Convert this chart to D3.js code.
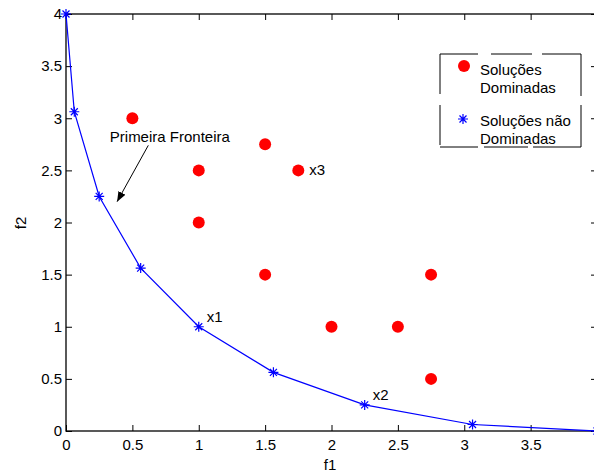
<!DOCTYPE html>
<html>
<head>
<meta charset="utf-8">
<script src="https://cdn.jsdelivr.net/npm/d3@7"></script>
<style>
  body { margin: 0; background: #fff; }
  svg { display: block; font-family: "Liberation Sans", Arial, sans-serif; }
  .axis text { font-size: 15px; fill: #000; }
  .axis line { stroke: #000; }
</style>
</head>
<body>
<script>
// non-dominated solutions (first front)
var frontF1 = [0, 0.0625, 0.25, 0.5625, 1, 1.5625, 2.25, 3.0625, 4];
var frontF2 = [4, 3.0625, 2.25, 1.5625, 1, 0.5625, 0.25, 0.0625, 0];

// dominated solutions
var domF1 = [0.5, 1, 1, 1.5, 1.5, 1.75, 2, 2.5, 2.75, 2.75];
var domF2 = [3, 2.5, 2, 2.75, 1.5, 2.5, 1, 1, 1.5, 0.5];

// point labels
var labelText = ["x1", "x2", "x3"];
var labelF1 = [1, 2.25, 1.75];
var labelF2 = [1, 0.25, 2.5];

var xTicks = [0, 0.5, 1, 1.5, 2, 2.5, 3, 3.5];
var yTicks = [0, 0.5, 1, 1.5, 2, 2.5, 3, 3.5, 4];
var legendLabels = [["Soluções", "Dominadas"], ["Soluções não", "Dominadas"]];

var width = 594, height = 473;
var pLeft = 66, pRight = 597, pTop = 14, pBottom = 431;

var svg = d3.select("body").append("svg")
    .attr("width", width)
    .attr("height", height);

// set the ranges
var x = d3.scaleLinear().domain([0, 4]).range([pLeft, pRight]);
var y = d3.scaleLinear().domain([0, 4]).range([pBottom, pTop]);

// axes, ticks pointing inward
svg.append("g")
    .attr("class", "axis")
    .attr("transform", "translate(0," + pBottom + ")")
    .call(d3.axisBottom(x).tickValues(xTicks).tickFormat(d3.format("")).tickSize(-6).tickPadding(8))
    .call(function (g) { g.select(".domain").remove(); });

svg.append("g")
    .attr("class", "axis")
    .attr("transform", "translate(" + pLeft + ",0)")
    .call(d3.axisLeft(y).tickValues(yTicks).tickFormat(d3.format("")).tickSize(-6).tickPadding(4))
    .call(function (g) { g.select(".domain").remove(); });

svg.append("g")
    .attr("class", "axis")
    .attr("transform", "translate(0," + pTop + ")")
    .call(d3.axisTop(x).tickValues(xTicks).tickFormat("").tickSize(-6))
    .call(function (g) { g.select(".domain").remove(); });

svg.append("g")
    .attr("class", "axis")
    .attr("transform", "translate(" + pRight + ",0)")
    .call(d3.axisRight(y).tickValues(yTicks).tickFormat("").tickSize(-6))
    .call(function (g) { g.select(".domain").remove(); });

// frame
svg.append("rect")
    .attr("x", pLeft).attr("y", pTop)
    .attr("width", pRight - pLeft).attr("height", pBottom - pTop)
    .attr("fill", "none").attr("stroke", "#000").attr("stroke-width", 1.3);

// axis titles
svg.append("text")
    .attr("x", (pLeft + 594) / 2).attr("y", 470)
    .attr("text-anchor", "middle").attr("font-size", 15)
    .text("f1");
svg.append("text")
    .attr("transform", "translate(26,223) rotate(-90)")
    .attr("text-anchor", "middle").attr("font-size", 15)
    .text("f2");

var front = frontF1.map(function (d, i) { return { f1: d, f2: frontF2[i] }; });
var dominated = domF1.map(function (d, i) { return { f1: d, f2: domF2[i] }; });

var frontline = d3.line()
    .x(function (d) { return x(d.f1); })
    .y(function (d) { return y(d.f2); });

svg.append("path")
    .datum(front)
    .attr("fill", "none")
    .attr("stroke", "#0000ff")
    .attr("stroke-width", 1.2)
    .attr("d", frontline);

// star marker
function star(cx, cy, r) {
    var a = r * 0.7;
    return "M" + (cx - r) + "," + cy + "H" + (cx + r) +
        "M" + cx + "," + (cy - r) + "V" + (cy + r) +
        "M" + (cx - a) + "," + (cy - a) + "L" + (cx + a) + "," + (cy + a) +
        "M" + (cx - a) + "," + (cy + a) + "L" + (cx + a) + "," + (cy - a);
}

svg.selectAll(".star")
    .data(front)
    .enter().append("path")
    .attr("class", "star")
    .attr("fill", "none")
    .attr("stroke", "#0000ff")
    .attr("stroke-width", 1.2)
    .attr("d", function (d) { return star(x(d.f1), y(d.f2), 5); });

svg.selectAll(".dot")
    .data(dominated)
    .enter().append("circle")
    .attr("class", "dot")
    .attr("cx", function (d) { return x(d.f1); })
    .attr("cy", function (d) { return y(d.f2); })
    .attr("r", 6)
    .attr("fill", "#ff0000");

// point labels
svg.selectAll(".plabel")
    .data(labelText)
    .enter().append("text")
    .attr("class", "plabel")
    .attr("x", function (d, i) { return x(labelF1[i]) + (i == 2 ? 11 : 8); })
    .attr("y", function (d, i) { return y(labelF2[i]) - 5 + (i == 2 ? 10 : 0); })
    .attr("font-size", 15)
    .text(function (d) { return d; });

// annotation
svg.append("defs").append("marker")
    .attr("id", "head")
    .attr("viewBox", "0 0 10 10")
    .attr("refX", 10).attr("refY", 5)
    .attr("markerWidth", 10).attr("markerHeight", 10)
    .attr("markerUnits", "userSpaceOnUse")
    .attr("orient", "auto")
    .append("path")
    .attr("d", "M0,1L10,5L0,9Z")
    .attr("fill", "#000");

svg.append("text")
    .attr("x", x(0.33)).attr("y", y(2.77))
    .attr("font-size", 15)
    .text("Primeira Fronteira");

svg.append("line")
    .attr("x1", x(0.62)).attr("y1", y(2.74))
    .attr("x2", x(0.385)).attr("y2", y(2.2))
    .attr("stroke", "#000")
    .attr("stroke-width", 1)
    .attr("marker-end", "url(#head)");

// legend
var lg = svg.append("g");
var lgTop = 54, lgMid1 = 94, lgMid2 = 105, lgBot = 147, lgL = 440, lgR = 581;
var segs = [
    [lgL, lgTop, 478, lgTop], [491, lgTop, 532, lgTop], [542, lgTop, lgR, lgTop],
    [lgL, lgTop, lgL, lgMid1], [lgL, lgMid2, lgL, 145],
    [lgR, lgTop, lgR, 96], [lgR, lgMid2, lgR, lgBot],
    [lgL, lgBot, 478, lgBot], [484, lgBot, 528, lgBot], [533, lgBot, lgR, lgBot]
];
lg.selectAll("line")
    .data(segs)
    .enter().append("line")
    .attr("x1", function (d) { return d[0]; })
    .attr("y1", function (d) { return d[1]; })
    .attr("x2", function (d) { return d[2]; })
    .attr("y2", function (d) { return d[3]; })
    .attr("stroke", "#000")
    .attr("stroke-width", 1);

lg.append("circle").attr("cx", 464).attr("cy", 66).attr("r", 6).attr("fill", "#ff0000");
lg.append("path").attr("d", star(463, 119, 5))
    .attr("fill", "none").attr("stroke", "#0000ff").attr("stroke-width", 1.2);

legendLabels.forEach(function (lines, i) {
    var t = lg.append("text")
        .attr("x", 480).attr("y", i == 0 ? 75 : 126)
        .attr("font-size", 15);
    lines.forEach(function (s, j) {
        t.append("tspan").attr("x", 480).attr("dy", j == 0 ? 0 : 18).text(s);
    });
});
</script>
</body>
</html>
